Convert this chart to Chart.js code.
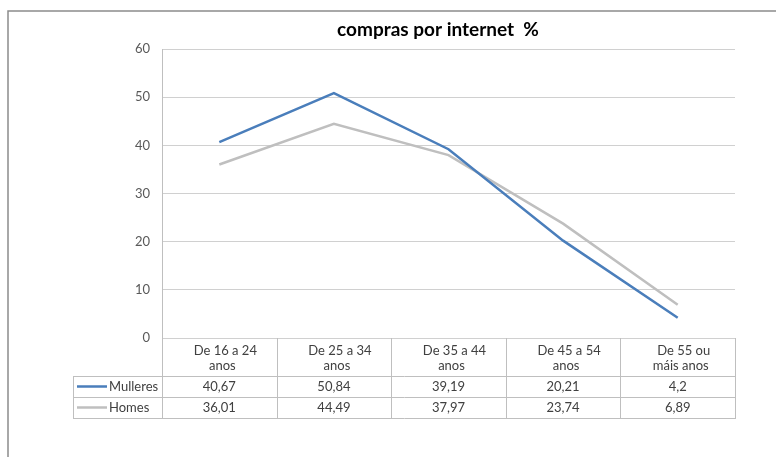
<!DOCTYPE html>
<html>
<head>
<meta charset="utf-8">
<script src="https://cdn.jsdelivr.net/npm/chart.js@4"></script>
<style>
html,body{margin:0;padding:0;background:#fff;}
#wrap{width:776px;height:457px;position:relative;}
</style>
</head>
<body>
<div id="wrap"><canvas id="c" width="776" height="457"></canvas></div>
<script>
const title = "compras por internet  %";
const categories = [["De 16 a 24","anos"],["De 25 a 34","anos"],["De 35 a 44","anos"],["De 45 a 54","anos"],["De 55 ou","máis anos"]];
const seriesNames = ["Mulleres","Homes"];
const mulleres = [40.67, 50.84, 39.19, 20.21, 4.2];
const homes = [36.01, 44.49, 37.97, 23.74, 6.89];
const yTicks = [0, 10, 20, 30, 40, 50, 60];

const FONT = "'Lato', sans-serif";
const colors = ["#4A7EBB", "#BFBFBF"];
const fmt = v => String(v).replace('.', ',');

const framePlugin = {
  id: 'frame',
  beforeDraw(chart) {
    const ctx = chart.ctx;
    ctx.save();
    ctx.fillStyle = '#fff';
    ctx.fillRect(0, 0, chart.width, chart.height);
    ctx.strokeStyle = '#8C8C8C';
    ctx.lineWidth = 1.5;
    ctx.beginPath();
    ctx.moveTo(8, chart.height);
    ctx.lineTo(8, 11);
    ctx.lineTo(chart.width, 11);
    ctx.stroke();
    ctx.restore();
  },
  afterDraw(chart) {
    const ctx = chart.ctx;
    const a = chart.chartArea;
    const xs = chart.scales.x;
    // title
    ctx.save();
    ctx.fillStyle = '#000';
    ctx.font = "bold 19px " + FONT;
    ctx.textAlign = 'center';
    ctx.textBaseline = 'middle';
    ctx.fillText(title, 438, 30);

    const n = categories.length;
    const step = xs.getPixelForValue(1) - xs.getPixelForValue(0);
    const top = a.bottom;
    const headH = 38, rowH = 21;
    const legLeft = a.left - 89;
    ctx.strokeStyle = '#BFBFBF';
    ctx.lineWidth = 1;
    ctx.beginPath();
    for (let i = 0; i <= n; i++) {
      const bx = Math.round(a.left + i * step) + 0.5;
      ctx.moveTo(bx, top);
      ctx.lineTo(bx, top + headH + 2 * rowH);
    }
    ctx.moveTo(legLeft + 0.5, top + headH);
    ctx.lineTo(legLeft + 0.5, top + headH + 2 * rowH);
    for (let r = 0; r <= 2; r++) {
      const yy = Math.round(top + headH + r * rowH) + 0.5;
      ctx.moveTo(legLeft, yy);
      ctx.lineTo(a.right + 1, yy);
    }
    ctx.stroke();

    ctx.fillStyle = '#404040';
    ctx.font = "13px " + FONT;
    ctx.textAlign = 'center';
    ctx.textBaseline = 'middle';
    categories.forEach((lab, i) => {
      const cx = xs.getPixelForValue(i);
      ctx.fillText(lab[0], cx + 6, top + 13);
      ctx.fillText(lab[1], cx + 3, top + 28);
    });
    const rows = [mulleres, homes];
    rows.forEach((vals, r) => {
      const cy = top + headH + r * rowH + rowH / 2;
      vals.forEach((v, i) => {
        ctx.fillText(fmt(v), xs.getPixelForValue(i), cy);
      });
      // legend key
      ctx.strokeStyle = colors[r];
      ctx.lineWidth = 2.5;
      ctx.beginPath();
      ctx.moveTo(legLeft + 4, cy);
      ctx.lineTo(legLeft + 34, cy);
      ctx.stroke();
      ctx.textAlign = 'left';
      ctx.fillText(seriesNames[r], legLeft + 36, cy);
      ctx.textAlign = 'center';
    });
    ctx.restore();
  }
};

new Chart(document.getElementById('c'), {
  type: 'line',
  data: {
    labels: categories,
    datasets: [
      { label: seriesNames[0], data: mulleres, borderColor: colors[0], backgroundColor: colors[0], borderWidth: 2.5, pointRadius: 0, tension: 0 },
      { label: seriesNames[1], data: homes, borderColor: colors[1], backgroundColor: colors[1], borderWidth: 2.5, pointRadius: 0, tension: 0 }
    ]
  },
  options: {
    responsive: false,
    animation: false,
    layout: { padding: { top: 49, bottom: 119, right: 41, left: 0 } },
    plugins: { legend: { display: false }, title: { display: false }, tooltip: { enabled: false } },
    scales: {
      x: { type: 'category', display: false, offset: true },
      y: {
        min: 0, max: 60,
        afterFit: s => { s.width = 162; },
        afterBuildTicks: s => { s.ticks = yTicks.map(v => ({ value: v })); },
        ticks: { color: '#595959', font: { family: FONT, size: 13 }, padding: 12 },
        grid: { color: '#D0D0D0', lineWidth: 1, drawTicks: false },
        border: { color: '#BFBFBF', width: 1 }
      }
    }
  },
  plugins: [framePlugin]
});
</script>
</body>
</html>
